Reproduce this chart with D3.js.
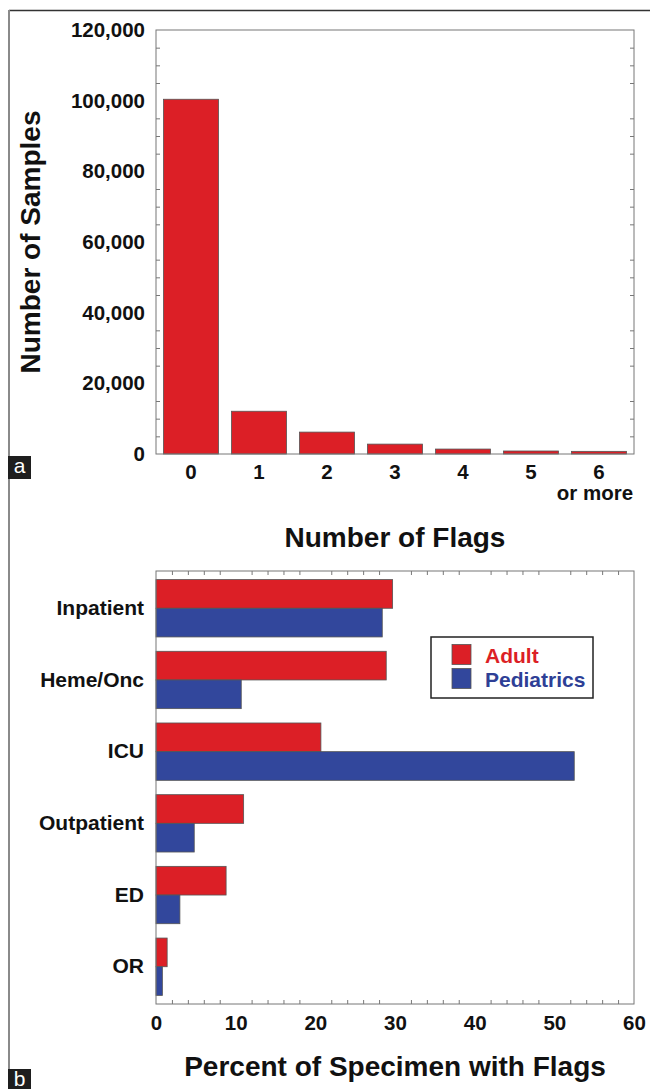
<!DOCTYPE html>
<html>
<head>
<meta charset="utf-8">
<script src="https://cdn.jsdelivr.net/npm/d3@7"></script>
<style>
  html, body { margin: 0; padding: 0; background: #fff; }
  svg { display: block; }
  text { font-family: "Liberation Sans", Arial, sans-serif; }
</style>
</head>
<body>
<svg id="chart" width="650" height="1089"></svg>
<script>
// ---------- Data: panel a ----------
const flagCategories = ["0", "1", "2", "3", "4", "5", "6"];
const flagSubLabels = ["", "", "", "", "", "", "or more"];
const sampleCounts = [100400, 12100, 6200, 2800, 1400, 850, 750];
const sampleTicks = [0, 20000, 40000, 60000, 80000, 100000, 120000];
const sampleMinorTicks = [5000, 10000, 15000, 25000, 30000, 35000, 45000, 50000, 55000, 65000, 70000, 75000, 85000, 90000, 95000, 105000, 110000, 115000];

// ---------- Data: panel b ----------
const locations = ["Inpatient", "Heme/Onc", "ICU", "Outpatient", "ED", "OR"];
const seriesNames = ["Adult", "Pediatrics"];
const adultPercent = [29.7, 28.9, 20.7, 11.0, 8.8, 1.4];
const pediatricPercent = [28.4, 10.7, 52.5, 4.8, 3.0, 0.8];
const percentTicks = [0, 10, 20, 30, 40, 50, 60];
const percentMinorTicks = [2, 4, 6, 8, 12, 14, 16, 18, 22, 24, 26, 28, 32, 34, 36, 38, 42, 44, 46, 48, 52, 54, 56, 58];

const RED = "#dc1f26";
const BLUE = "#32479c";
const BAR_STROKE = "#555";
const FRAME = "#777";
const FONT = "'Liberation Sans', Arial, sans-serif";

const svg = d3.select("#chart");

// Outer figure frame
svg.append("line").attr("x1", 9).attr("x2", 650).attr("y1", 10.5).attr("y2", 10.5)
  .attr("stroke", "#333").attr("stroke-width", 1.5);
svg.append("line").attr("x1", 9).attr("x2", 9).attr("y1", 10).attr("y2", 1070)
  .attr("stroke", "#8a8a8a").attr("stroke-width", 2);

// Panel letters
function panelLetter(letter, y, h) {
  svg.append("rect").attr("x", 8).attr("y", y).attr("width", 23).attr("height", h).attr("fill", "#1e1e1e");
  svg.append("text").attr("x", 19.5).attr("y", y + 17).attr("text-anchor", "middle")
    .attr("fill", "#fff").attr("font-size", 21).attr("font-family", FONT).text(letter);
}
panelLetter("a", 456, 23);
panelLetter("b", 1069, 20);

// ---------- Panel a ----------
const A = { left: 156, right: 634, top: 30, bottom: 454 };
const xA = d3.scaleBand().domain(flagCategories).range([A.left, A.right]).paddingInner(0.19).paddingOuter(0.11);
const yA = d3.scaleLinear().domain([0, 120000]).range([A.bottom, A.top]);

const gA = svg.append("g");
gA.selectAll("rect.bar").data(sampleCounts).join("rect")
  .attr("class", "bar")
  .attr("x", (d, i) => xA(flagCategories[i]))
  .attr("width", xA.bandwidth())
  .attr("y", d => yA(d))
  .attr("height", d => yA(0) - yA(d))
  .attr("fill", RED).attr("stroke", BAR_STROKE).attr("stroke-width", 0.8);

// frame
gA.append("rect").attr("x", A.left).attr("y", A.top).attr("width", A.right - A.left).attr("height", A.bottom - A.top)
  .attr("fill", "none").attr("stroke", FRAME).attr("stroke-width", 1);

// minor ticks left & right (inward)
gA.append("g").attr("transform", `translate(${A.left},0)`)
  .call(d3.axisLeft(yA).tickValues(sampleMinorTicks).tickSize(-4).tickFormat(""))
  .call(g => g.select(".domain").remove())
  .call(g => g.selectAll("line").attr("stroke", FRAME));
gA.append("g").attr("transform", `translate(${A.right},0)`)
  .call(d3.axisRight(yA).tickValues(sampleMinorTicks).tickSize(-4).tickFormat(""))
  .call(g => g.select(".domain").remove())
  .call(g => g.selectAll("line").attr("stroke", FRAME));

// major labels
gA.append("g").attr("transform", `translate(${A.left},0)`)
  .call(d3.axisLeft(yA).tickValues(sampleTicks).tickSize(0).tickPadding(11).tickFormat(d3.format(",")))
  .call(g => g.select(".domain").remove())
  .call(g => g.selectAll("text").attr("font-size", 20.5).attr("font-weight", "bold")
    .attr("font-family", FONT).attr("fill", "#111"));

// x labels
gA.append("g").attr("transform", `translate(0,${A.bottom})`)
  .call(d3.axisBottom(xA).tickSize(0).tickPadding(10))
  .call(g => g.select(".domain").remove())
  .call(g => g.selectAll("text").attr("font-size", 20.5).attr("font-weight", "bold")
    .attr("font-family", FONT).attr("fill", "#111"));
gA.selectAll("text.sub").data(flagSubLabels).join("text")
  .attr("class", "sub")
  .attr("x", (d, i) => xA(flagCategories[i]) + xA.bandwidth() / 2 - 4)
  .attr("y", 500)
  .attr("text-anchor", "middle")
  .attr("font-size", 20.5).attr("font-weight", "bold").attr("font-family", FONT).attr("fill", "#111")
  .text(d => d);

// titles
svg.append("text").attr("x", (A.left + A.right) / 2).attr("y", 547).attr("text-anchor", "middle")
  .attr("font-size", 28).attr("font-weight", "bold").attr("font-family", FONT).attr("fill", "#111")
  .text("Number of Flags");
svg.append("text").attr("transform", `translate(40,${(A.top + A.bottom) / 2}) rotate(-90)`)
  .attr("text-anchor", "middle")
  .attr("font-size", 28).attr("font-weight", "bold").attr("font-family", FONT).attr("fill", "#111")
  .text("Number of Samples");

// ---------- Panel b ----------
const B = { left: 156, right: 634, top: 571, bottom: 1004 };
const yB = d3.scaleBand().domain(locations).range([B.top, B.bottom]).paddingInner(0.2).paddingOuter(0.12);
const ySeries = d3.scaleBand().domain(seriesNames).range([0, yB.bandwidth()]);
const xB = d3.scaleLinear().domain([0, 60]).range([B.left, B.right]);
const colorB = d3.scaleOrdinal().domain(seriesNames).range([RED, BLUE]);

const groupedRows = locations.map((loc, i) => ({
  loc, values: [
    { series: seriesNames[0], value: adultPercent[i] },
    { series: seriesNames[1], value: pediatricPercent[i] }
  ]
}));

const gB = svg.append("g");
gB.selectAll("g.grp").data(groupedRows).join("g")
  .attr("class", "grp")
  .attr("transform", d => `translate(0,${yB(d.loc)})`)
  .selectAll("rect").data(d => d.values).join("rect")
  .attr("x", xB(0))
  .attr("y", d => ySeries(d.series))
  .attr("height", ySeries.bandwidth())
  .attr("width", d => xB(d.value) - xB(0))
  .attr("fill", d => colorB(d.series))
  .attr("stroke", BAR_STROKE).attr("stroke-width", 0.8);

gB.append("rect").attr("x", B.left).attr("y", B.top).attr("width", B.right - B.left).attr("height", B.bottom - B.top)
  .attr("fill", "none").attr("stroke", FRAME).attr("stroke-width", 1);

// minor ticks top & bottom (inward)
gB.append("g").attr("transform", `translate(0,${B.bottom})`)
  .call(d3.axisBottom(xB).tickValues(percentMinorTicks).tickSize(-4).tickFormat(""))
  .call(g => g.select(".domain").remove())
  .call(g => g.selectAll("line").attr("stroke", FRAME));
gB.append("g").attr("transform", `translate(0,${B.top})`)
  .call(d3.axisTop(xB).tickValues(percentMinorTicks).tickSize(-4).tickFormat(""))
  .call(g => g.select(".domain").remove())
  .call(g => g.selectAll("line").attr("stroke", FRAME));

gB.append("g").attr("transform", `translate(0,${B.bottom})`)
  .call(d3.axisBottom(xB).tickValues(percentTicks).tickSize(0).tickPadding(11).tickFormat(d3.format("d")))
  .call(g => g.select(".domain").remove())
  .call(g => g.selectAll("text").attr("font-size", 20.5).attr("font-weight", "bold")
    .attr("font-family", FONT).attr("fill", "#111"));

gB.append("g").attr("transform", `translate(${B.left},0)`)
  .call(d3.axisLeft(yB).tickSize(0).tickPadding(12))
  .call(g => g.select(".domain").remove())
  .call(g => g.selectAll("text").attr("font-size", 21).attr("font-weight", "bold")
    .attr("font-family", FONT).attr("fill", "#111"));

svg.append("text").attr("x", (B.left + B.right) / 2).attr("y", 1076).attr("text-anchor", "middle")
  .attr("font-size", 28).attr("font-weight", "bold").attr("font-family", FONT).attr("fill", "#111")
  .text("Percent of Specimen with Flags");

// legend
const lg = svg.append("g").attr("transform", "translate(431,637)");
lg.append("rect").attr("width", 162).attr("height", 61).attr("fill", "#fff").attr("stroke", "#222").attr("stroke-width", 1.5);
const legendColors = [RED, "#2e3f96"];
lg.selectAll("g.item").data(seriesNames).join("g")
  .attr("class", "item")
  .attr("transform", (d, i) => `translate(21,${7.5 + i * 24})`)
  .call(g => g.append("rect").attr("width", 19).attr("height", 20)
    .attr("fill", d => colorB(d)).attr("stroke", BAR_STROKE).attr("stroke-width", 0.8))
  .call(g => g.append("text").attr("x", 33).attr("y", 18)
    .attr("font-size", 21).attr("font-weight", "bold").attr("font-family", FONT)
    .attr("fill", (d, i) => legendColors[i]).text(d => d));
</script>
</body>
</html>
